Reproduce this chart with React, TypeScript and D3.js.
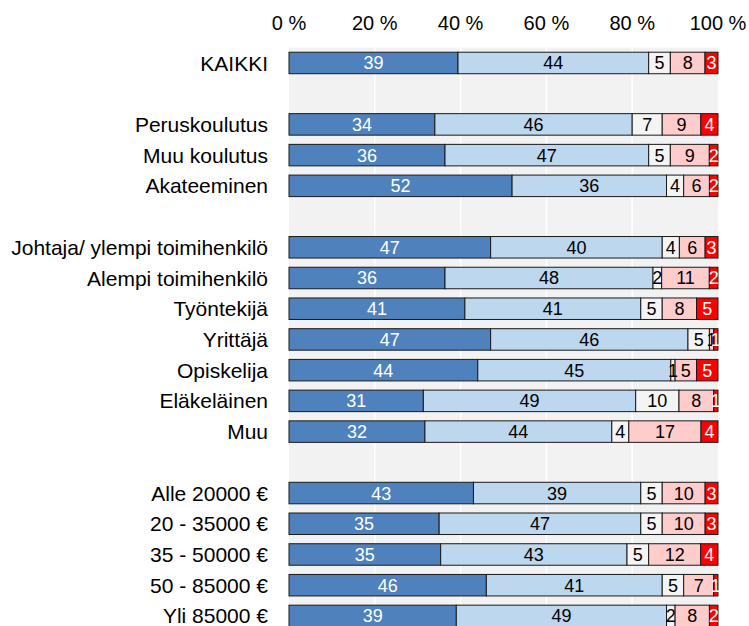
import React from "react";
import * as d3 from "d3";

const categories = [
  "KAIKKI", "", "Peruskoulutus", "Muu koulutus", "Akateeminen", "",
  "Johtaja/ ylempi toimihenkilö", "Alempi toimihenkilö", "Työntekijä", "Yrittäjä",
  "Opiskelija", "Eläkeläinen", "Muu", "",
  "Alle 20000 €", "20 - 35000 €", "35 - 50000 €", "50 - 85000 €", "Yli 85000 €",
];

const s1 = [39, null, 34, 36, 52, null, 47, 36, 41, 47, 44, 31, 32, null, 43, 35, 35, 46, 39];
const s2 = [44, null, 46, 47, 36, null, 40, 48, 41, 46, 45, 49, 44, null, 39, 47, 43, 41, 49];
const s3 = [5, null, 7, 5, 4, null, 4, 2, 5, 5, 1, 10, 4, null, 5, 5, 5, 5, 2];
const s4 = [8, null, 9, 9, 6, null, 6, 11, 8, 1, 5, 8, 17, null, 10, 10, 12, 7, 8];
const s5 = [3, null, 4, 2, 2, null, 3, 2, 5, 1, 5, 1, 4, null, 3, 3, 4, 1, 2];

const seriesList = [s1, s2, s3, s4, s5];
const seriesColors = ["#4f81bd", "#bdd7ee", "#f4f4f4", "#ffcccc", "#ff0000"];
const labelColors = ["#ffffff", "#000000", "#000000", "#000000", "#ffffff"];

const xTicks = [0, 20, 40, 60, 80, 100];

export default function App() {
  const W = 749, H = 626;
  const x0 = 289, x1 = 718;
  const top = 47.6, step = 30.72;
  const x = d3.scaleLinear().domain([0, 100]).range([x0, x1]);
  const keys = categories.map((c, i) => `${i}`);
  const y = d3.scaleBand<string>().domain(keys).range([top, top + step * categories.length])
    .paddingInner(0.3).paddingOuter(0.15);
  const bh = y.bandwidth();

  const rows = categories.map((c, i) => {
    if (s1[i] == null) return null;
    const vals = seriesList.map(s => s[i] as number);
    const total = d3.sum(vals);
    let cum = 0;
    const segs = vals.map((v, j) => {
      const start = (cum / total) * 100;
      cum += v;
      const end = (cum / total) * 100;
      return { v, j, start, end };
    });
    return { c, i, segs };
  });

  return (
    <svg width={W} height={H} style={{ position: "absolute", left: 0, top: 0 }}
      fontFamily="'Liberation Sans', Arial, sans-serif">
      <rect x={x0} y={top} width={x1 - x0} height={H - top} fill="#f2f2f2" />
      {xTicks.slice(1, -1).map(t => (
        <line key={t} x1={x(t)} x2={x(t)} y1={top} y2={H} stroke="#ffffff" strokeWidth={1.5} />
      ))}
      {xTicks.map(t => (
        <text key={t} x={x(t)} y={30} textAnchor="middle" fontSize={20} fill="#000">{`${t} %`}</text>
      ))}
      {rows.map(r => r && (
        <g key={r.i}>
          <text x={268} y={(y(`${r.i}`) as number) + bh / 2} dy="0.36em" textAnchor="end" fontSize={21} fill="#000">{r.c}</text>
          {r.segs.map(s => (
            <rect key={s.j} x={x(s.start)} y={y(`${r.i}`)} width={x(s.end) - x(s.start)} height={bh}
              fill={seriesColors[s.j]} stroke="#1a1a1a" strokeWidth={1} />
          ))}
          {r.segs.map(s => (
            <text key={"t" + s.j} x={(x(s.start) + x(s.end)) / 2} y={(y(`${r.i}`) as number) + bh / 2}
              dy="0.36em" textAnchor="middle" fontSize={18} fill={labelColors[s.j]}>{s.v}</text>
          ))}
        </g>
      ))}
    </svg>
  );
}
